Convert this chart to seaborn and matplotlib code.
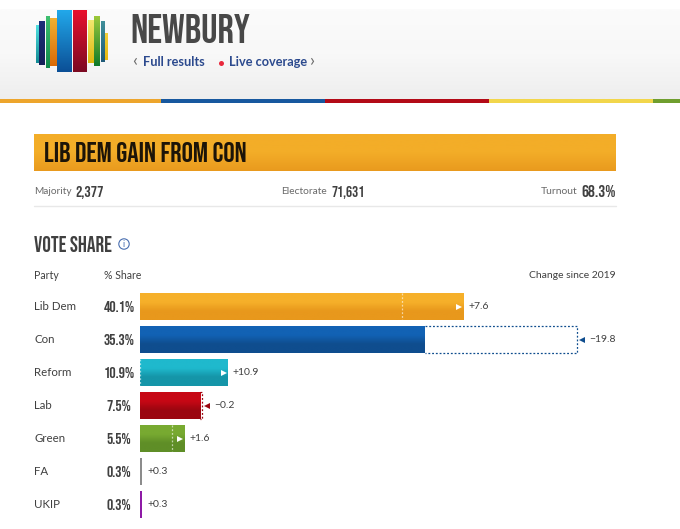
import numpy as np
import pandas as pd
import seaborn as sns
import matplotlib.pyplot as plt
from matplotlib.colors import LinearSegmentedColormap
from matplotlib.patches import Circle, Rectangle

parties = ["Lib Dem", "Con", "Reform", "Lab", "Green", "FA", "UKIP"]
shares = [40.1, 35.3, 10.9, 7.5, 5.5, 0.3, 0.3]
# 2019 share as drawn by the dashed markers
prev_shares = [32.5, 54.2, 0.0, 7.7, 3.95, 0.0, 0.0]
changes = ["+7.6", "\u221219.8", "+10.9", "\u22120.2", "+1.6", "+0.3", "+0.3"]
top_colours = ["#f6b02a", "#1262b4", "#1fb9cd", "#c70815", "#78aa31", "#8c8c8c", "#8e1aa6"]
low_colours = ["#e8981c", "#0f4d8e", "#1595a8", "#9b0610", "#5f8e27", "#8c8c8c", "#8e1aa6"]

W, H = 680, 529
BAR_LEFT, BAR_RIGHT = 140, 616
ROW_TOP, ROW_BOTTOM = 290.2, 521.2
PX_PER_PCT = 8.06

NARROW = ["Bebas Neue", "Oswald", "DejaVu Sans"]
BODY = "Lato"
DARK = "#404040"
GREY = "#6a6a6a"
LINK = "#2c4a8e"

sns.set_theme(style="white")
fig = plt.figure(figsize=(W / 100, H / 100), dpi=100, facecolor="white")

# full-figure layer in pixels for the page furniture
page = fig.add_axes([0, 0, 1, 1])
page.set_xlim(0, W)
page.set_ylim(H, 0)
page.axis("off")


def gradient(ax, x0, x1, y0, y1, colours):
    cmap = LinearSegmentedColormap.from_list("g", colours)
    grad = np.linspace(0, 1, 64).reshape(-1, 1)
    ax.imshow(grad, cmap=cmap, extent=(x0, x1, y1, y0), aspect="auto", origin="upper", zorder=2)


# header
page.axhline(9.5, color="#ececec", lw=1)
gradient(page, 0, W, 10, 99, ["#fbfbfb", "#f8f8f8", "#eeeeee"])
band = [(0, 161, "#eda52c"), (161, 325, "#17589f"), (325, 489, "#b30a17"),
        (489, 653, "#f2d64b"), (653, 680, "#6f9e2e")]
for x0, x1, c in band:
    page.add_patch(Rectangle((x0, 99), x1 - x0, 4, color=c, lw=0, zorder=3))

logo = [(36, 40, 25, 63, "#4fe0e0", "#128a94"), (39, 45, 21, 65, "#1d2f7a", "#142058"),
        (46, 50, 16, 68, "#3fc070", "#0f8a4a"), (50, 58, 18, 66, "#f3b030", "#d86a08"),
        (57, 72, 10, 72, "#22a8ea", "#0b4f96"), (73, 87, 10, 72, "#e8102e", "#7c0a22"),
        (88, 94, 20, 63, "#f4e870", "#dcb80e"), (94, 100, 16, 66, "#9cc83a", "#0e7a2a"),
        (101, 105, 21, 62, "#3f8f9a", "#1f5a78"), (105, 108, 33, 60, "#f3cf3a", "#e8b80e")]
for x0, x1, y0, y1, c0, c1 in logo:
    gradient(page, x0, x1, y0, y1, [c0, c1])

page.text(130, 43, "NEWBURY", family=NARROW, fontsize=29.3, color="#484848", va="baseline", zorder=5)
page.text(132, 61, "\u2039", family=BODY, fontsize=13, color=GREY, va="center", zorder=5)
page.text(143, 62.5, "Full results", family=BODY, weight="bold", fontsize=9.2, color=LINK, va="center", zorder=5)
page.plot([221], [63], "o", ms=3.6, color="#e8283c", mew=0, zorder=5)
page.text(229, 62.5, "Live coverage", family=BODY, weight="bold", fontsize=9.2, color=LINK, va="center", zorder=5)
page.text(310, 61, "\u203a", family=BODY, fontsize=13, color=GREY, va="center", zorder=5)

# result banner
gradient(page, 34, 616, 134, 171, ["#f3ad28", "#f3ad28", "#e99a1e"])
page.text(44, 162, "LIB DEM GAIN FROM CON", family=NARROW, fontsize=20.3, color="#1c1408", va="baseline", zorder=5)

# stats row
page.text(34, 192, "Majority", family=BODY, fontsize=7.3, color=GREY, va="center")
page.text(75, 197, "2,377", family=NARROW, fontsize=11.5, color=DARK, va="baseline")
page.text(281, 192, "Electorate", family=BODY, fontsize=7.4, color=GREY, va="center")
page.text(332, 197, "71,631", family=NARROW, fontsize=11, color=DARK, va="baseline")
page.text(541, 192, "Turnout", family=BODY, fontsize=7.5, color=GREY, va="center")
page.text(616, 197, "68.3%", family=NARROW, fontsize=12.5, color=DARK, va="baseline", ha="right")
page.plot([34, 616], [206, 206], color="#e8e8e8", lw=1)

# vote share heading
page.text(34, 252, "VOTE SHARE", family=NARROW, fontsize=15.5, color=DARK, va="baseline")
page.add_patch(Circle((124, 244), 5.2, fill=False, ec="#4a6fb0", lw=0.8))
page.text(124, 244.5, "i", family=BODY, fontsize=6.5, color="#4a6fb0", ha="center", va="center")
page.text(34, 275.5, "Party", family=BODY, fontsize=7.6, color=DARK, va="center")
page.text(104, 275.5, "% Share", family=BODY, fontsize=7.6, color=DARK, va="center")
page.text(616, 275.5, "Change since 2019", family=BODY, fontsize=7.5, color=DARK, va="center", ha="right")
page.set_xlim(0, W)
page.set_ylim(H, 0)

# bars
ax = fig.add_axes([BAR_LEFT / W, 1 - ROW_BOTTOM / H, (BAR_RIGHT - BAR_LEFT) / W, (ROW_BOTTOM - ROW_TOP) / H])
ax.patch.set_alpha(0)
df = pd.DataFrame({"party": parties, "share": shares})
sns.barplot(data=df, y="party", x="share", hue="party", palette=top_colours, saturation=1,
            dodge=False, legend=False, width=0.81, ax=ax)
xmax = (BAR_RIGHT - BAR_LEFT) / PX_PER_PCT
trans = ax.get_yaxis_transform()

for i, patch in enumerate(ax.patches):
    x1 = patch.get_width()
    y0, y1 = patch.get_y(), patch.get_y() + patch.get_height()
    top, low = top_colours[i], low_colours[i]
    patch.set_linewidth(0)
    if shares[i] > 1:
        gradient(ax, 0, x1, y0, y1, [top, top, low, low])
    else:
        patch.set_zorder(3)

    prev = prev_shares[i]
    up = shares[i] >= prev
    if prev > shares[i]:
        # lost ground: dashed outline of the old bar
        ax.plot([x1, prev, prev, x1], [y0, y0, y1, y1], color=low, lw=0.9, ls=(0, (1.5, 1.5)), zorder=4)
    elif shares[i] > 1:
        ax.plot([prev, prev], [y0, y1], color="#ffffff", alpha=0.6, lw=0.9, ls=(0, (1.5, 1.5)), zorder=4)

    end = max(shares[i], prev)
    if shares[i] > 1 and up:
        ax.plot([x1 - 4 / PX_PER_PCT], [i], marker=">", ms=5, color="white", mew=0, zorder=5)
    elif shares[i] > 1:
        ax.plot([end + 5 / PX_PER_PCT], [i], marker="<", ms=5, color=low, mew=0, zorder=5)
    pad = 5 if up else 12
    ax.text(end + pad / PX_PER_PCT, i, changes[i], family=BODY, fontsize=7.5, color=DARK, va="center", ha="left")

    # labels left of the plot area, placed with the axis transform
    ax.text((34 - BAR_LEFT) / (BAR_RIGHT - BAR_LEFT), i, parties[i], transform=trans, family=BODY, fontsize=8.3, color=DARK, va="center")
    ax.text((119 - BAR_LEFT) / (BAR_RIGHT - BAR_LEFT), i, f"{shares[i]}%", transform=trans, family=NARROW,
            fontsize=11.3, color=DARK, va="center", ha="center")

ax.set_xlim(0, xmax)
ax.set_ylim(len(parties) - 0.5, -0.5)
ax.axis("off")

fig.savefig("out.png", dpi=100)
